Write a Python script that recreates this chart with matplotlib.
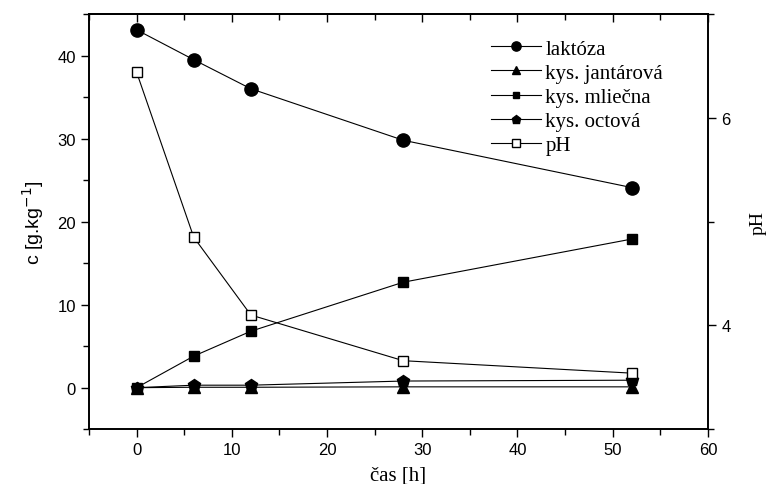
import matplotlib.pyplot as plt
from matplotlib.ticker import MultipleLocator

# data
cas = [0, 6, 12, 28, 52]
laktoza = [43.1, 39.5, 36.0, 29.8, 24.1]
jantarova = [0.0, 0.05, 0.05, 0.1, 0.1]
mliecna = [0.0, 3.8, 6.8, 12.7, 17.9]
octova = [0.0, 0.3, 0.3, 0.8, 0.9]
ph = [6.44, 4.85, 4.10, 3.66, 3.54]

sans = 'Liberation Sans'
serif = 'Liberation Serif'

fig = plt.figure(figsize=(7.67, 4.85), dpi=100)
ax = fig.add_axes([0.116, 0.113, 0.807, 0.856])
ax2 = ax.twinx()

kw = dict(color='black', lw=0.8, markeredgecolor='black')
l1, = ax.plot(cas, laktoza, marker='o', ms=9.5, label='laktóza', **kw)
l2, = ax.plot(cas, jantarova, marker='^', ms=8, label='kys. jantárová', **kw)
l3, = ax.plot(cas, mliecna, marker='s', ms=7, label='kys. mliečna', **kw)
l4, = ax.plot(cas, octova, marker='p', ms=9, label='kys. octová', **kw)
l5, = ax2.plot(cas, ph, marker='s', ms=7.5, markerfacecolor='white',
               label='pH', **kw)

ax.set_xlim(-5, 60)
ax.set_ylim(-5, 45)
ax2.set_ylim(3, 7)

ax.xaxis.set_major_locator(MultipleLocator(10))
ax.xaxis.set_minor_locator(MultipleLocator(5))
ax.yaxis.set_major_locator(MultipleLocator(10))
ax.yaxis.set_minor_locator(MultipleLocator(5))
ax2.yaxis.set_major_locator(MultipleLocator(2))
ax2.yaxis.set_minor_locator(MultipleLocator(1))

for a in (ax, ax2):
    a.tick_params(which='both', direction='out', width=1, labelsize=12)
    a.tick_params(which='major', length=6)
    a.tick_params(which='minor', length=4)
    for lab in a.get_xticklabels() + a.get_yticklabels():
        lab.set_fontfamily(sans)
    for s in a.spines.values():
        s.set_linewidth(1.2)

# inward ticks along the top edge
top = ax.secondary_xaxis('top')
top.xaxis.set_major_locator(MultipleLocator(10))
top.xaxis.set_minor_locator(MultipleLocator(5))
top.tick_params(which='both', direction='in', width=1, labeltop=False)
top.tick_params(which='major', length=6)
top.tick_params(which='minor', length=4)
top.spines['top'].set_linewidth(1.2)

ax.set_xlabel('čas [h]', family=serif, fontsize=15, labelpad=6)
ax.set_ylabel('c [g.kg$^{-1}$]', family=sans, fontsize=14, labelpad=8)
ax2.set_ylabel('pH', family=serif, fontsize=14, labelpad=14)

ax.legend(handles=[l1, l2, l3, l4, l5], loc='upper left',
          bbox_to_anchor=(0.65, 0.94), frameon=False,
          prop={'family': serif, 'size': 15}, handlelength=2.4,
          labelspacing=0.22, handletextpad=0.2, markerscale=0.7,
          borderaxespad=0, borderpad=0)

fig.savefig('out.png', dpi=100)
